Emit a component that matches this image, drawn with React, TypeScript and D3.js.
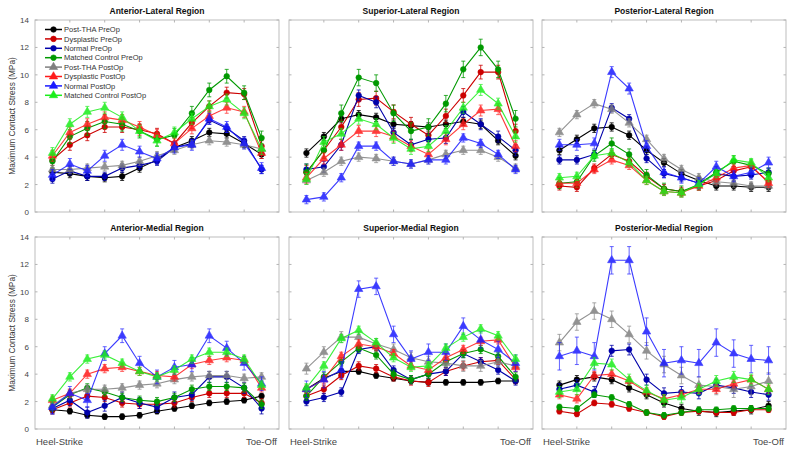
import React from 'react';
import * as d3 from 'd3';

const seriesNames = [
  'Post-THA PreOp', 'Dysplastic PreOp', 'Normal PreOp', 'Matched Control PreOp',
  'Post-THA PostOp', 'Dysplastic PostOp', 'Normal PostOp', 'Matched Control PostOp',
];
const seriesColors = ['#000000', '#cc0000', '#0000aa', '#009900', '#7f7f7f', '#ff1a1a', '#1a1aff', '#1aee1a'];
const seriesMarkers = ['circle', 'circle', 'circle', 'circle', 'triangle', 'triangle', 'triangle', 'triangle'];

const timePoints = [1, 2, 3, 4, 5, 6, 7, 8, 9, 10, 11, 12, 13];
const xTicks = [2, 4, 6, 8, 10, 12];
const yTicks = [0, 2, 4, 6, 8, 10, 12, 14];

const panelTitles = [
  'Anterior-Lateral Region', 'Superior-Lateral Region', 'Posterior-Lateral Region',
  'Anterior-Medial Region', 'Superior-Medial Region', 'Posterior-Medial Region',
];

const anteriorLateral = [
  [2.9, 2.8, 2.6, 2.5, 2.6, 3.2, 3.8, 4.7, 5.2, 5.8, 5.7, 5.0, 4.2],
  [3.8, 4.9, 5.6, 6.2, 6.2, 6.0, 5.7, 5.0, 6.5, 7.7, 8.7, 8.6, 4.8],
  [2.4, 3.0, 2.6, 2.6, 3.2, 3.4, 3.7, 4.7, 5.0, 6.7, 6.1, 5.2, 3.1],
  [3.7, 5.5, 6.1, 6.6, 6.4, 5.9, 5.3, 5.6, 7.2, 8.9, 9.9, 8.7, 5.4],
  [3.1, 3.1, 3.2, 3.3, 3.4, 3.7, 4.1, 4.5, 4.9, 5.2, 5.1, 4.9, 4.6],
  [4.1, 5.8, 6.4, 6.9, 6.7, 6.2, 5.6, 5.0, 6.1, 7.0, 7.6, 7.3, 4.3],
  [2.7, 3.5, 3.0, 4.1, 4.9, 4.4, 3.9, 4.7, 4.9, 6.8, 6.2, 5.0, 3.2],
  [4.3, 6.4, 7.3, 7.6, 6.9, 5.9, 5.2, 5.8, 6.8, 7.7, 8.2, 7.2, 4.6],
];
const superiorLateral = [
  [4.3, 5.5, 6.8, 7.1, 6.9, 6.4, 6.3, 6.2, 6.4, 6.6, 6.4, 5.2, 4.1],
  [2.9, 4.5, 6.2, 8.2, 8.3, 7.3, 6.4, 5.6, 7.0, 8.5, 10.2, 10.2, 5.9],
  [3.1, 3.3, 4.9, 8.5, 8.0, 5.8, 4.9, 5.3, 5.4, 7.3, 6.4, 5.5, 4.5],
  [2.9, 4.5, 7.2, 9.8, 9.4, 7.2, 5.9, 6.2, 7.9, 10.4, 12.0, 10.4, 6.8],
  [2.3, 2.9, 3.7, 4.0, 3.9, 3.7, 3.5, 3.8, 4.2, 4.5, 4.5, 4.0, 3.2],
  [2.5, 3.9, 4.9, 5.9, 5.9, 5.5, 4.8, 4.2, 5.3, 6.4, 7.4, 7.5, 4.8],
  [0.9, 1.1, 2.5, 4.8, 4.8, 3.7, 3.5, 3.8, 3.8, 5.4, 5.0, 4.2, 3.1],
  [2.4, 5.1, 5.7, 6.8, 6.4, 5.4, 4.6, 4.8, 5.9, 7.6, 8.9, 7.9, 5.5],
];
const posteriorLateral = [
  [4.5, 5.3, 6.1, 6.2, 5.6, 4.5, 3.6, 2.8, 2.3, 1.9, 1.9, 1.8, 1.8],
  [1.9, 1.8, 3.2, 4.2, 3.7, 2.6, 1.7, 1.5, 1.9, 2.3, 3.0, 3.3, 2.2],
  [3.8, 3.8, 4.2, 7.6, 6.8, 3.9, 2.8, 2.5, 2.1, 2.8, 2.6, 2.7, 2.9],
  [2.1, 2.2, 4.1, 5.0, 4.2, 2.7, 1.7, 1.5, 2.0, 2.9, 3.7, 3.4, 2.8],
  [5.8, 7.1, 7.9, 7.5, 6.5, 5.3, 3.9, 3.1, 2.5, 2.2, 2.1, 1.9, 1.9],
  [2.1, 2.1, 3.1, 3.8, 3.4, 2.3, 1.5, 1.4, 1.9, 2.5, 3.2, 3.4, 2.1],
  [4.9, 4.9, 5.0, 10.2, 9.0, 4.8, 2.9, 2.5, 2.1, 3.3, 2.6, 2.9, 3.6],
  [2.5, 2.6, 4.1, 4.3, 3.6, 2.3, 1.5, 1.4, 2.0, 2.8, 3.8, 3.6, 2.5],
];
const anteriorMedial = [
  [1.4, 1.3, 1.0, 0.9, 0.9, 1.0, 1.3, 1.5, 1.7, 1.9, 2.0, 2.1, 2.4],
  [1.4, 1.9, 2.4, 2.3, 1.9, 1.8, 1.8, 1.9, 2.3, 2.6, 2.6, 2.6, 1.9],
  [1.5, 2.1, 1.2, 1.7, 2.3, 1.9, 1.6, 2.3, 2.5, 3.8, 3.8, 3.0, 1.5],
  [1.6, 2.5, 3.0, 2.7, 2.3, 2.1, 2.0, 2.3, 2.9, 3.1, 3.1, 3.0, 1.8],
  [1.7, 2.6, 2.9, 2.9, 3.0, 3.2, 3.3, 3.6, 3.8, 3.9, 3.9, 3.7, 3.8],
  [2.1, 2.6, 4.0, 4.4, 4.5, 4.2, 3.9, 3.8, 4.7, 5.0, 5.2, 5.0, 3.0],
  [1.6, 2.6, 2.1, 5.5, 6.8, 4.8, 3.8, 4.5, 4.7, 6.8, 5.9, 4.8, 3.3],
  [2.2, 3.8, 5.1, 5.4, 4.8, 4.2, 3.8, 4.3, 5.1, 5.6, 5.6, 5.1, 3.2],
];
const superiorMedial = [
  [2.9, 3.7, 4.2, 4.2, 3.9, 3.7, 3.5, 3.4, 3.4, 3.4, 3.4, 3.5, 3.5],
  [2.4, 2.9, 3.9, 4.6, 4.4, 3.8, 3.5, 3.4, 4.2, 4.6, 4.9, 5.0, 3.6],
  [2.0, 2.3, 2.7, 5.8, 6.0, 4.3, 3.6, 4.0, 4.2, 5.5, 4.9, 4.3, 3.5],
  [2.4, 3.8, 4.9, 5.9, 5.4, 4.0, 3.6, 4.0, 4.9, 5.5, 5.8, 5.3, 3.8],
  [4.4, 5.6, 6.7, 6.7, 6.2, 5.8, 5.2, 4.9, 4.8, 4.6, 4.6, 4.9, 4.6],
  [2.9, 3.6, 5.3, 6.2, 6.0, 5.5, 4.6, 4.3, 5.2, 5.8, 6.4, 6.5, 4.5],
  [2.9, 3.6, 4.3, 10.2, 10.4, 6.9, 5.1, 5.6, 5.6, 7.5, 6.5, 5.8, 4.8],
  [3.0, 4.6, 6.6, 7.2, 6.3, 5.2, 4.5, 4.6, 5.9, 6.7, 7.3, 6.8, 5.1],
];
const posteriorMedial = [
  [3.2, 3.6, 3.8, 3.6, 3.0, 2.5, 1.9, 1.5, 1.3, 1.2, 1.3, 1.4, 1.7],
  [1.3, 1.1, 1.9, 1.8, 1.5, 1.2, 0.9, 1.2, 1.3, 1.2, 1.2, 1.4, 1.4],
  [2.9, 3.2, 2.7, 5.7, 5.8, 3.6, 2.6, 2.7, 2.6, 3.2, 3.0, 2.7, 2.5],
  [1.6, 1.5, 2.5, 2.3, 1.8, 1.2, 1.0, 1.2, 1.4, 1.4, 1.5, 1.5, 1.5],
  [6.3, 7.8, 8.6, 8.0, 6.9, 5.7, 4.7, 3.9, 3.2, 3.1, 2.9, 3.1, 3.5],
  [2.5, 2.2, 3.9, 4.0, 3.5, 2.7, 2.2, 2.5, 2.9, 2.9, 3.3, 3.6, 2.9],
  [5.3, 5.7, 5.3, 12.3, 12.3, 7.1, 4.8, 5.0, 4.8, 6.3, 5.5, 5.1, 5.0],
  [2.7, 2.9, 4.8, 4.7, 3.6, 2.8, 2.1, 2.3, 2.9, 3.5, 3.8, 3.6, 2.9],
];

// approximate error-bar half-lengths per series, one list per panel
const anteriorLateralErr = [0.3, 0.4, 0.3, 0.5, 0.3, 0.4, 0.4, 0.4];
const superiorLateralErr = [0.3, 0.5, 0.4, 0.6, 0.3, 0.4, 0.3, 0.4];
const posteriorLateralErr = [0.3, 0.3, 0.3, 0.4, 0.3, 0.3, 0.4, 0.3];
const anteriorMedialErr = [0.2, 0.3, 0.4, 0.3, 0.3, 0.3, 0.5, 0.3];
const superiorMedialErr = [0.2, 0.3, 0.3, 0.3, 0.4, 0.3, 0.6, 0.3];
const posteriorMedialErr = [0.3, 0.2, 0.4, 0.2, 0.6, 0.3, 1.0, 0.4];

const panelData = [anteriorLateral, superiorLateral, posteriorLateral, anteriorMedial, superiorMedial, posteriorMedial];
const panelErr = [anteriorLateralErr, superiorLateralErr, posteriorLateralErr, anteriorMedialErr, superiorMedialErr, posteriorMedialErr];

const FONT = 'Liberation Sans, Arial, sans-serif';
const colLefts = [35, 289, 542];
const rowTops = [20, 237];
const PW = 244;
const PH = 192;

const tri = d3.symbol().type(d3.symbolTriangle).size(30)() as string;

function Marker({ kind, x, y, color }: { kind: string; x: number; y: number; color: string }) {
  if (kind === 'circle') return <circle cx={x} cy={y} r={2.8} fill={color} stroke={color} strokeWidth={0.6} />;
  return <path d={tri} transform={`translate(${x},${y})`} fill={color} stroke={color} strokeWidth={0.6} />;
}

function Panel({ idx }: { idx: number }) {
  const col = idx % 3;
  const row = Math.floor(idx / 3);
  const left = colLefts[col];
  const top = rowTops[row];
  const x = d3.scaleLinear().domain([0, 14]).range([0, PW]);
  const y = d3.scaleLinear().domain([0, 14]).range([PH, 0]);
  const line = d3.line<number>().x((_, i) => x(timePoints[i])).y((d) => y(d));
  const data = panelData[idx];
  const errs = panelErr[idx];
  const tickColor = '#b4b4b4';
  return (
    <g transform={`translate(${left},${top})`}>
      <rect x={0} y={0} width={PW} height={PH} fill="white" stroke="#bdbdbd" strokeWidth={1} />
      {xTicks.map((t) => (
        <g key={'xt' + t}>
          <line x1={x(t)} x2={x(t)} y1={PH} y2={PH - 2.5} stroke={tickColor} />
          <line x1={x(t)} x2={x(t)} y1={0} y2={2.5} stroke={tickColor} />
        </g>
      ))}
      {yTicks.map((t) => (
        <g key={'yt' + t}>
          <line x1={0} x2={2.5} y1={y(t)} y2={y(t)} stroke={tickColor} />
          <line x1={PW} x2={PW - 2.5} y1={y(t)} y2={y(t)} stroke={tickColor} />
          {col === 0 && (
            <text x={-6} y={y(t) + 3} textAnchor="end" fontSize={8} fill="#444" fontFamily={FONT}>{t}</text>
          )}
        </g>
      ))}
      <text x={PW / 2} y={-6} textAnchor="middle" fontSize={8.5} fontWeight="bold" fontFamily={FONT} fill="#111">
        {panelTitles[idx]}
      </text>
      {col === 0 && (
        <text transform={`translate(${-20},${PH / 2}) rotate(-90)`} textAnchor="middle" fontSize={8.3} fill="#333" fontFamily={FONT}>
          Maximum Contact Stress (MPa)
        </text>
      )}
      {row === 1 && (
        <g>
          <text x={1} y={PH + 16} fontSize={9.5} fill="#444" fontFamily={FONT}>Heel-Strike</text>
          <text x={PW - 2} y={PH + 16} textAnchor="end" fontSize={9.5} fill="#444" fontFamily={FONT}>Toe-Off</text>
        </g>
      )}
      {data.map((s, si) => (
        <g key={'s' + si} opacity={si >= 4 ? 0.85 : 1}>
          {s.map((v, i) => {
            const cx = x(timePoints[i]);
            const e = errs[si];
            return (
              <g key={i} stroke={seriesColors[si]} strokeWidth={0.8}>
                <line x1={cx} x2={cx} y1={y(v - e)} y2={y(v + e)} />
                <line x1={cx - 2} x2={cx + 2} y1={y(v - e)} y2={y(v - e)} />
                <line x1={cx - 2} x2={cx + 2} y1={y(v + e)} y2={y(v + e)} />
              </g>
            );
          })}
          <path d={line(s) as string} fill="none" stroke={seriesColors[si]} strokeWidth={1.1} />
          {s.map((v, i) => (
            <Marker key={'m' + i} kind={seriesMarkers[si]} x={x(timePoints[i])} y={y(v)} color={seriesColors[si]} />
          ))}
        </g>
      ))}
      {idx === 0 && (
        <g>
          {seriesNames.map((n, i) => {
            const ly = 9.5 + i * 9.4;
            return (
              <g key={n}>
                <line x1={10} x2={27} y1={ly} y2={ly} stroke={seriesColors[i]} strokeWidth={1.5} />
                <Marker kind={seriesMarkers[i]} x={18.5} y={ly} color={seriesColors[i]} />
                <text x={29} y={ly + 2.7} fontSize={7.5} fill="#333" fontFamily={FONT}>{n}</text>
              </g>
            );
          })}
        </g>
      )}
    </g>
  );
}

export default function App() {
  return (
    <svg width={800} height={456} style={{ position: 'absolute', left: 0, top: 0, background: 'white' }} xmlns="http://www.w3.org/2000/svg">
      <rect width={800} height={456} fill="white" />
      {panelTitles.map((_, i) => (
        <Panel key={i} idx={i} />
      ))}
    </svg>
  );
}
